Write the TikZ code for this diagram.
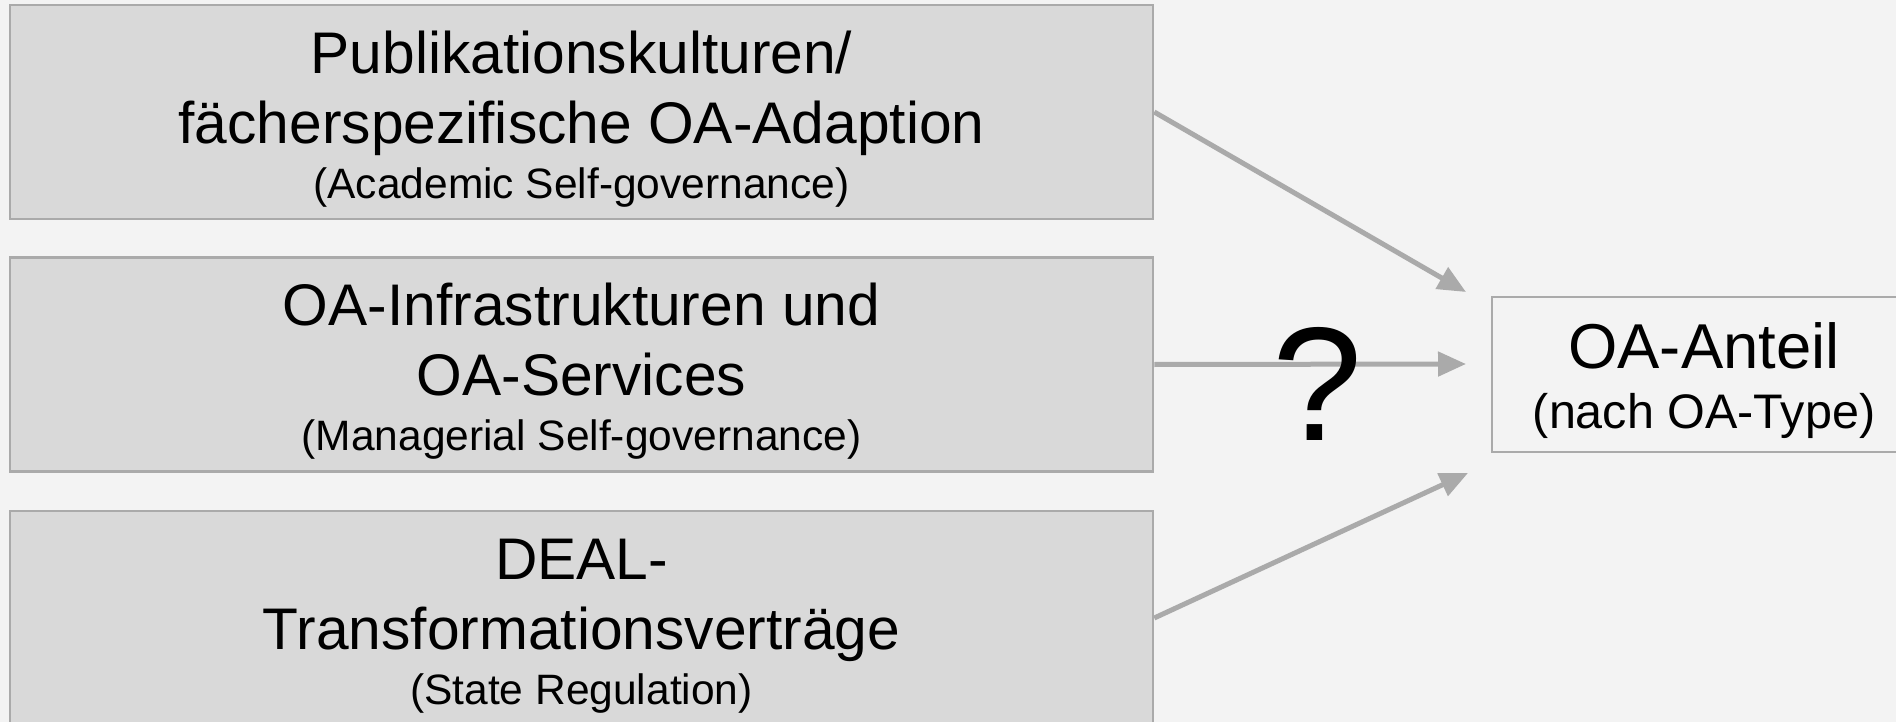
\documentclass[tikz,border=0pt]{standalone}
\usepackage{fontspec}
\setmainfont{Liberation Sans}
\usetikzlibrary{arrows.meta}

\definecolor{bggray}{HTML}{F3F3F3}
\definecolor{boxgray}{HTML}{D9D9D9}
\definecolor{linegray}{HTML}{AAAAAA}

\newlength\boxw
\setlength\boxw{1143pt}
\newlength\boxh
\setlength\boxh{214pt}

% strut that pushes the first line down a little
\newcommand\lift[1][56pt]{\rule{0pt}{#1}}
% small last line under the big label
\newcommand\subline[3][-15pt]{\\[#1]{\fontsize{#2}{46}\selectfont #3}}

\tikzset{
  factor/.style={draw=linegray, line width=2.5pt, fill=boxgray,
    minimum width=\boxw, minimum height=\boxh, inner sep=0pt,
    align=center, font=\fontsize{58.7}{70}\selectfont},
  result/.style={draw=linegray, line width=2.5pt, fill=bggray,
    minimum width=424pt, minimum height=155pt, inner sep=0pt,
    align=center, font=\fontsize{63.4}{70}\selectfont},
  link/.style={draw=linegray, line width=5pt,
    -{Triangle[length=28pt,width=24pt]}},
}

\begin{document}
\begin{tikzpicture}[x=1pt,y=-1pt]
    \fill[bggray] (0,0) rectangle (1896,722);
    \useasboundingbox (0,0) rectangle (1896,722);

    \node[factor] (kultur) at (581.5,112)
      {\lift Publikationskulturen/\\fächerspezifische OA-Adaption\subline{42.5}{(Academic Self-governance)}};
    \node[factor] (infra) at (581.5,364.5)
      {\lift OA-Infrastrukturen und\\OA-Services\subline{42.5}{(Managerial Self-governance)}};
    \node[factor] (deal) at (581.5,618)
      {\lift DEAL-\\Transformationsverträge\subline{42.5}{(State Regulation)}};

    \node[result] (anteil) at (1704,374.5)
      {\lift[59pt]OA-Anteil\subline[-10pt]{48.5}{(nach OA-Type)}};

    \coordinate (in1) at (1466,292);
    \coordinate (in2) at (1466,364);
    \coordinate (in3) at (1468,473);

    \draw[link] (kultur.east) -- (in1);
    \draw[link] (infra.east) -- (in2);
    \draw[link] (deal.east) -- (in3);

    \node[font=\fontsize{162}{164}\selectfont, inner sep=0pt] (frage) at (1318,384) {?};
\end{tikzpicture}
\end{document}
